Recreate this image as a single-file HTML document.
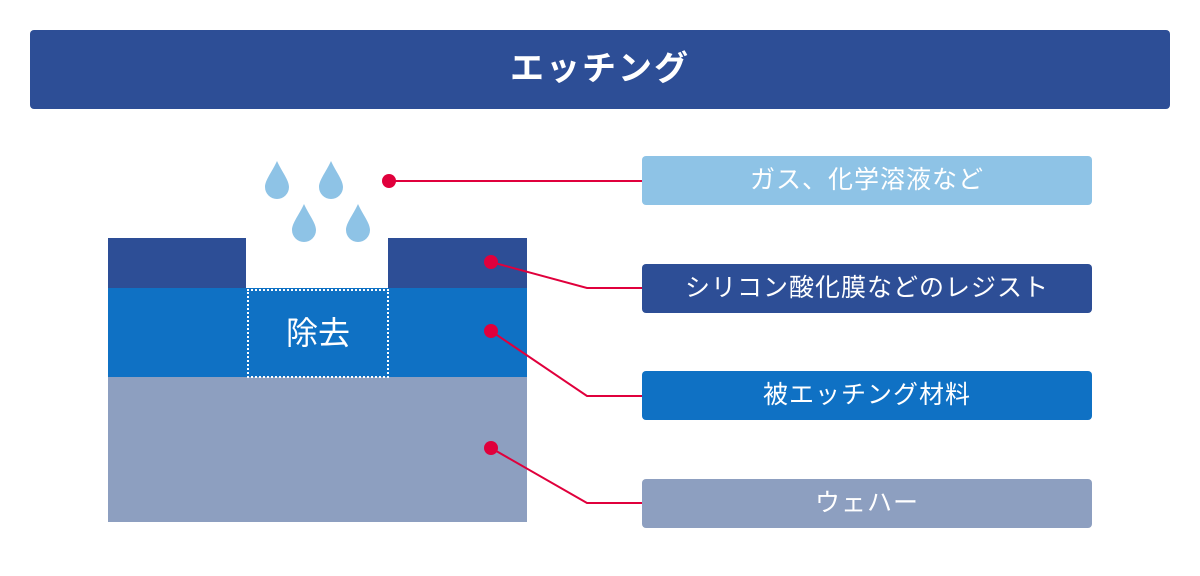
<!DOCTYPE html>
<html><head><meta charset="utf-8"><style>
body{margin:0;width:1200px;height:576px;background:#fff;position:relative;overflow:hidden;font-family:"Liberation Sans","Noto Sans CJK JP",sans-serif}
.a{position:absolute}
.hd{left:30px;top:30px;width:1140px;height:79px;background:#2d4e96;border-radius:4px;color:#fff;font-size:34px;font-weight:bold;text-align:center;line-height:79px;letter-spacing:2px}
.lb{left:642px;width:450px;height:49px;border-radius:4px;color:#fff;font-size:25px;text-align:center;line-height:49px;letter-spacing:1px}
</style></head><body>
<div class="a hd">エッチング</div>
<div class="a" style="left:108px;top:238px;width:138px;height:50px;background:#2d4e96"></div>
<div class="a" style="left:388px;top:238px;width:139px;height:50px;background:#2d4e96"></div>
<div class="a" style="left:108px;top:288px;width:419px;height:89px;background:#0f71c4"></div>
<div class="a" style="left:108px;top:377px;width:419px;height:145px;background:#8d9fc0"></div>
<div class="a" style="left:247px;top:289px;width:138px;height:85px;border:2px dotted #fff;color:#fff;font-size:32px;text-align:center;line-height:85px">除去</div>
<div class="a lb" style="top:156px;background:#8ec3e6">ガス、化学溶液など</div>
<div class="a lb" style="top:264px;background:#2d4e96">シリコン酸化膜などのレジスト</div>
<div class="a lb" style="top:371px;background:#0f71c4">被エッチング材料</div>
<div class="a lb" style="top:479px;background:#8d9fc0">ウェハー</div>
<svg class="a" style="left:0;top:0" width="1200" height="576">
<g fill="#8ec3e6">
<path d="M277 161 C272 172 265 180 265 187 A12 12 0 0 0 289 187 C289 180 282 172 277 161Z"/>
<path d="M331 161 C326 172 319 180 319 187 A12 12 0 0 0 343 187 C343 180 336 172 331 161Z"/>
<path d="M304 204 C299 215 292 223 292 230 A12 12 0 0 0 316 230 C316 223 309 215 304 204Z"/>
<path d="M358 204 C353 215 346 223 346 230 A12 12 0 0 0 370 230 C370 223 363 215 358 204Z"/>
</g>
<g stroke="#e0003c" stroke-width="2" fill="none">
<path d="M389 181 H642"/>
<path d="M491 262 L587 288 H642"/>
<path d="M491 331 L587 396 H642"/>
<path d="M491 448 L587 503 H642"/>
</g>
<g fill="#e0003c">
<circle cx="389" cy="181" r="7"/><circle cx="491" cy="262" r="7"/><circle cx="491" cy="331" r="7"/><circle cx="491" cy="448" r="7"/>
</g>
</svg>
</body></html>
